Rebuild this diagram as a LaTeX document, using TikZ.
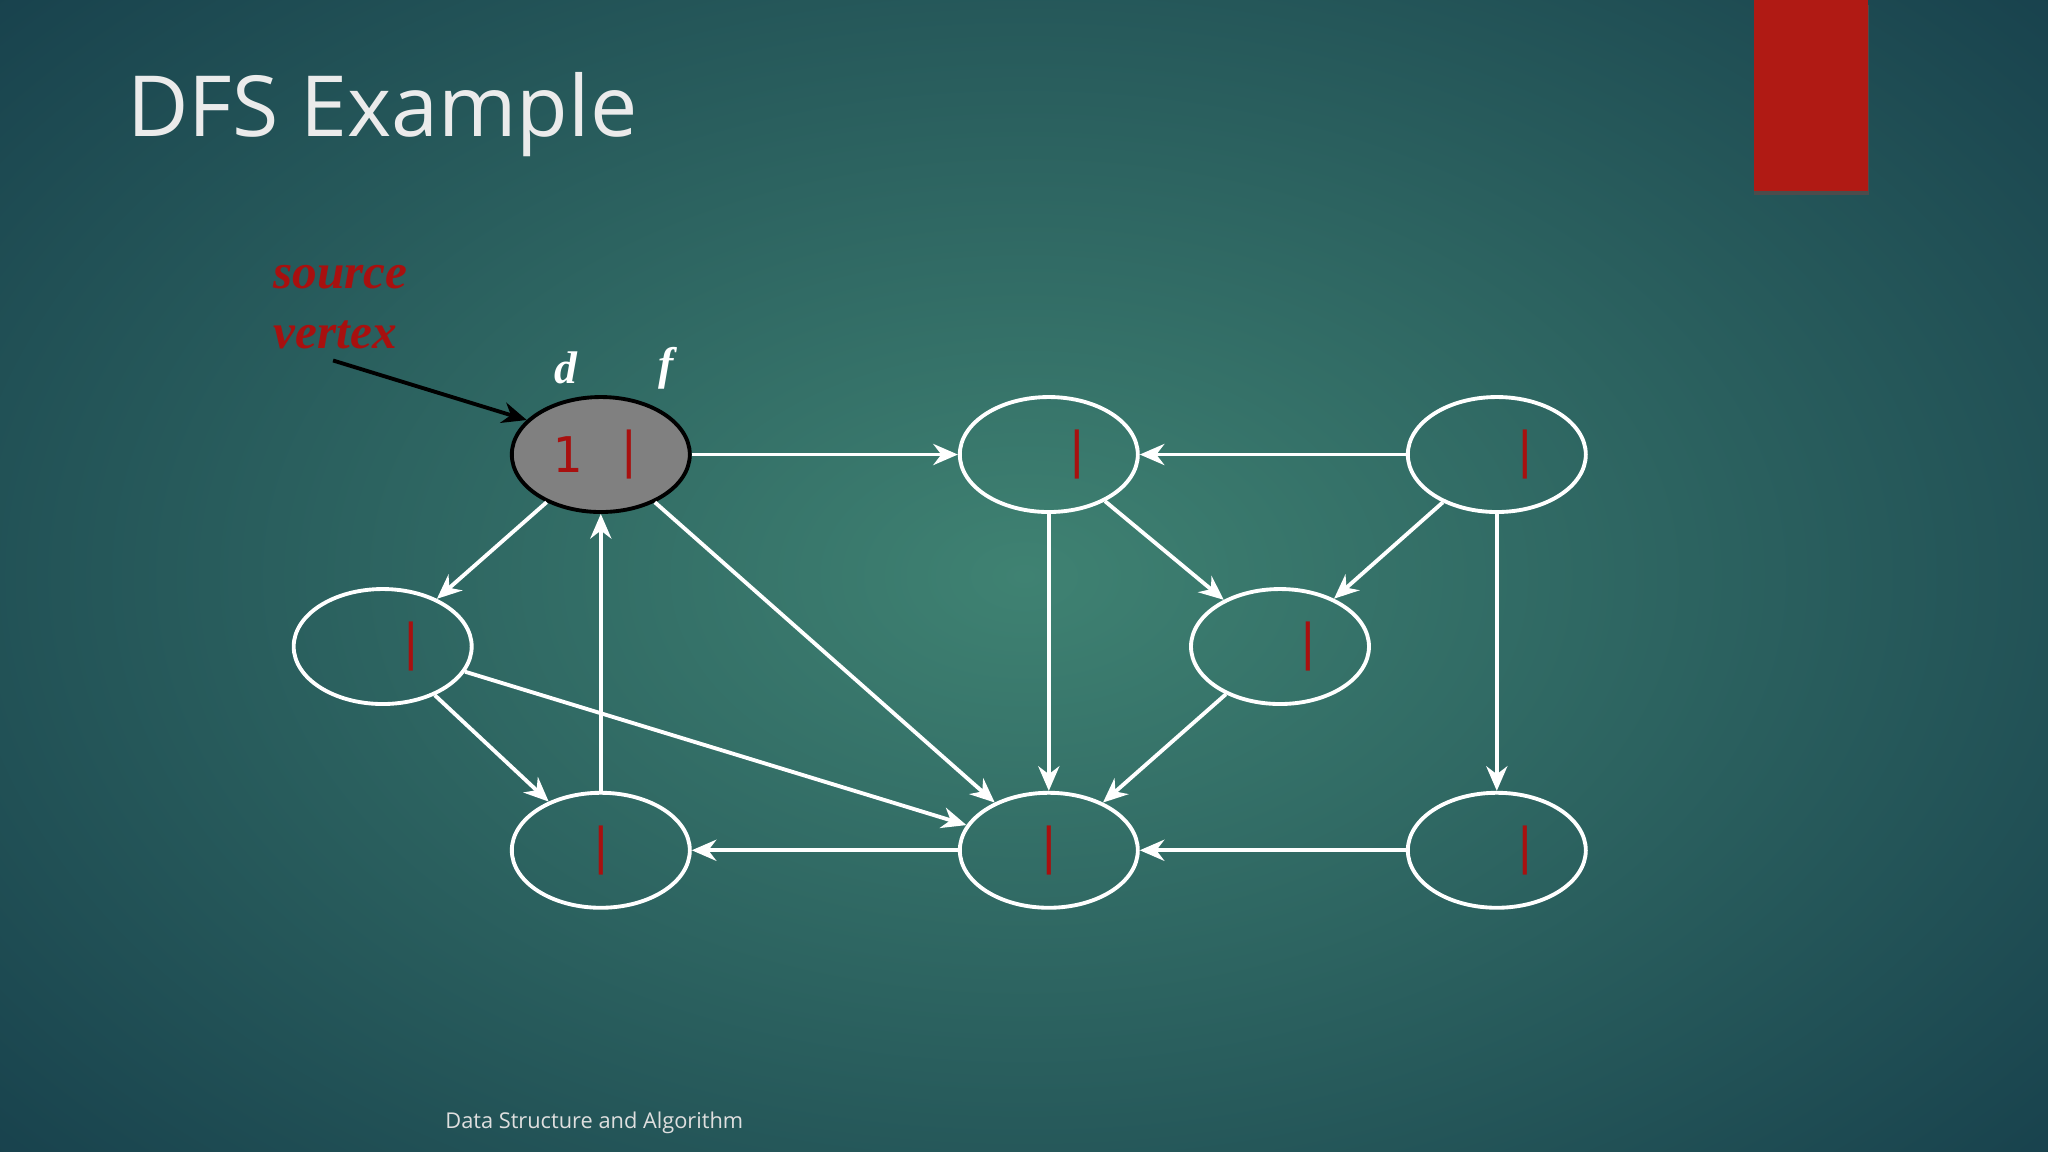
\documentclass[tikz,border=0pt]{standalone}
\usepackage{fontspec}
\setmainfont{Open Sans}
\newfontfamily\serif{Liberation Serif}
\newfontfamily\mono{DejaVu Sans Mono}
\usetikzlibrary{shapes.geometric,arrows.meta}
\definecolor{bgin}{HTML}{3F8272}
\definecolor{bgout}{HTML}{17404C}
\definecolor{srcred}{HTML}{A8100F}
\definecolor{boxred}{HTML}{B01A14}
\begin{document}
\begin{tikzpicture}[x=0.013061cm,y=-0.013061cm,
  vtx/.style={ellipse,draw=white,line width=1.1pt,minimum width=1.78cm,minimum height=1.15cm,inner sep=0pt},
  edge/.style={white,line width=1.1pt,-{Stealth[length=7pt,width=6pt]}},
  bar/.style={text=srcred,font=\mono\fontsize{14}{14}\selectfont}]
\useasboundingbox (0,0) rectangle (1568,882);
\shade[inner color=bgin,outer color=bgout] (-300,-250) rectangle (1868,1132);
\fill[black!70] (1343,4) rectangle (1431,149);
\fill[boxred] (1343,0) rectangle (1430,146);
\node[anchor=west,text=white!92!black,font=\fontsize{24}{24}\selectfont] (title) at (88,88) {DFS Example};
\node[text=white!75!gray,font=\fontsize{6.2}{6}\selectfont] (foot) at (455,860) {Data Structure and Algorithm};

\node[vtx,fill=gray,draw=black] (s) at (460,348) {};
\node[vtx] (tm) at (803,348) {};
\node[vtx] (tr) at (1146,348) {};
\node[vtx] (ml) at (293,495) {};
\node[vtx] (mr) at (980,495) {};
\node[vtx] (bl) at (460,651) {};
\node[vtx] (bm) at (803,651) {};
\node[vtx] (br) at (1146,651) {};

\node[bar] (s1) at (434,348) {1};
\foreach \n in {s,tm,tr,ml,mr,br} \node[bar] (\n b) at ([xshift=22*0.013061cm]\n.center) {|};
\node[bar] (blb) at (bl.center) {|};
\node[bar] (bmb) at (bm.center) {|};

\node[text=white,font=\serif\bfseries\itshape\fontsize{13}{13}\selectfont] (d) at (433,282) {d};
\node[text=white,font=\serif\bfseries\itshape\fontsize{13}{13}\selectfont] (f) at (510,282) {f};
\node[anchor=west,text=srcred,font=\serif\bfseries\itshape\fontsize{14}{17}\selectfont,align=left] (lab) at (200,235) {source\\vertex};
\coordinate (a0) at (255,276);
\draw[black,line width=1.1pt,-{Stealth[length=7pt,width=6pt]}] (a0) -- (s.155);

\draw[edge] (s) -- (tm);
\draw[edge] (tr) -- (tm);
\draw[edge] (s) -- (ml);
\draw[edge] (s) -- (bm);
\draw[edge] (ml) -- (bl);
\draw[edge] (ml) -- (bm);
\draw[edge] (bl) -- (s);
\draw[edge] (tm) -- (bm);
\draw[edge] (tm) -- (mr);
\draw[edge] (tr) -- (mr);
\draw[edge] (tr) -- (br);
\draw[edge] (mr) -- (bm);
\draw[edge] (bm) -- (bl);
\draw[edge] (br) -- (bm);
\end{tikzpicture}
\end{document}
